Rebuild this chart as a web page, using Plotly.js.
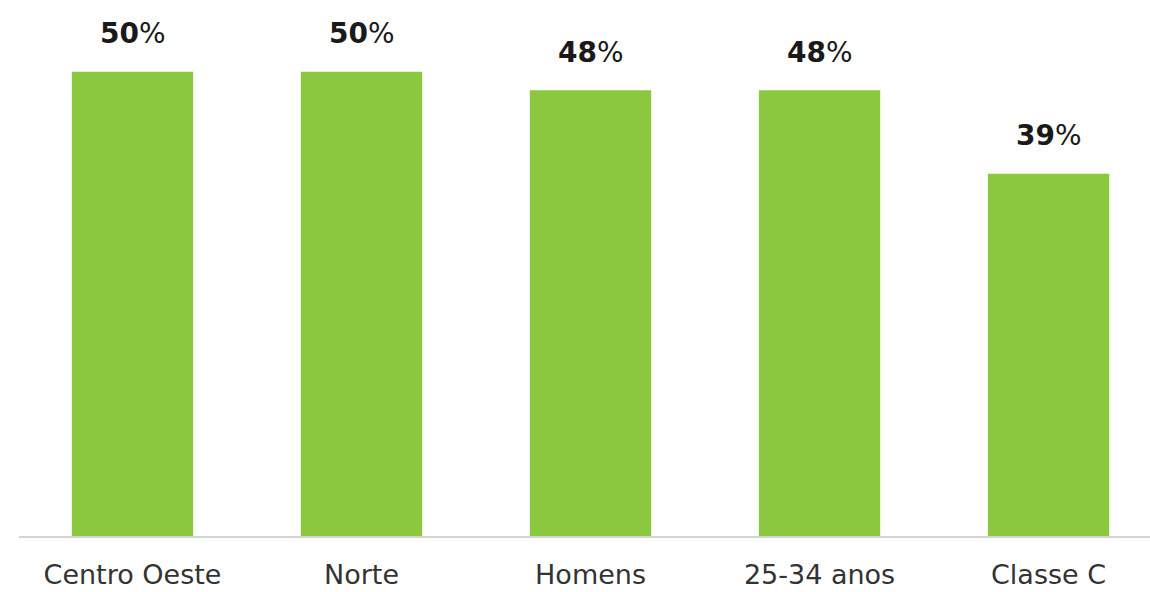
<!DOCTYPE html>
<html>
<head>
<meta charset="utf-8">
<script src="https://cdn.plot.ly/plotly-3.0.1.min.js"></script>
<style>html,body{margin:0;padding:0;background:#fff;}#chart{width:1150px;height:592px;}</style>
</head>
<body>
<div id="chart"></div>
<script>
const categories = ["Centro Oeste", "Norte", "Homens", "25-34 anos", "Classe C"];
const values = [50, 50, 48, 48, 39];
const valueLabels = ["50", "50", "48", "48", "39"];

const trace = {
  type: 'bar',
  x: categories,
  y: values,
  width: 0.53,
  marker: {color: '#8cc83f'},
  hoverinfo: 'none'
};

const annotations = categories.map((c, i) => ({
  x: c, y: values[i], xref: 'x', yref: 'y',
  text: '<b>' + valueLabels[i] + '</b>%',
  showarrow: false, yanchor: 'middle', yshift: 38,
  font: {family: '"DejaVu Sans", sans-serif', size: 28, color: '#1a1a1a'}
}));

const layout = {
  width: 1150, height: 592,
  margin: {l: 19, r: 0, t: 0, b: 56},
  paper_bgcolor: '#fff', plot_bgcolor: '#fff',
  showlegend: false,
  xaxis: {
    type: 'category',
    range: [-0.4956, 4.443],
    showline: true, linecolor: '#d3d3d3', linewidth: 1.5,
    showgrid: false, zeroline: false, ticks: '',
    ticklabelstandoff: 14,
    tickfont: {family: '"DejaVu Sans", sans-serif', size: 27, color: '#333'}
  },
  yaxis: {
    range: [0, 57.72], visible: false, showgrid: false, zeroline: false
  },
  annotations: annotations
};

Plotly.newPlot('chart', [trace], layout, {displayModeBar: false, staticPlot: true});
</script>
</body>
</html>
